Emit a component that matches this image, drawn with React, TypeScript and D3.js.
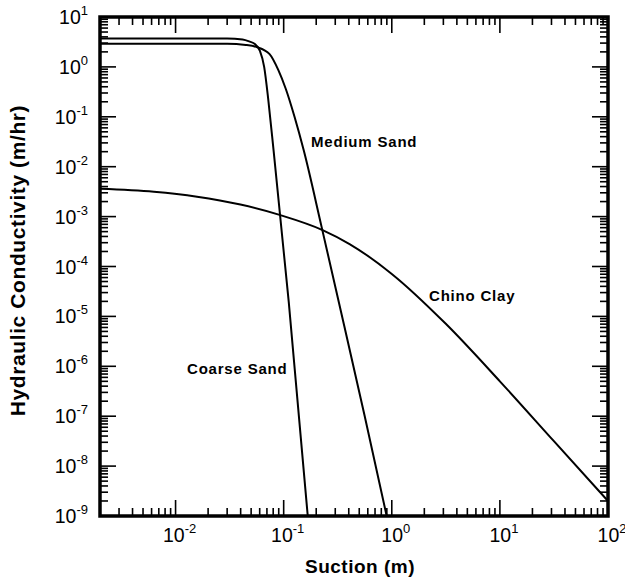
import { useEffect, useRef } from "react"
import * as d3 from "d3"

// suction (m) vs hydraulic conductivity (m/hr)
const coarseSuction = [0.002, 0.03, 0.0417, 0.0479, 0.0537, 0.0603, 0.066, 0.0724, 0.0807, 0.1114, 0.167]
const coarseK = [3.7, 3.7, 3.55, 3.25, 2.9, 2.1, 1.0, 0.2, 0.021, 1.95e-5, 1e-9]

const mediumSuction = [0.002, 0.03, 0.0447, 0.0562, 0.0741, 0.0891, 0.1047, 0.126, 0.1535, 0.224, 0.325, 0.562, 0.897]
const mediumK = [2.9, 2.9, 2.75, 2.5, 1.8, 0.87, 0.36, 0.1, 0.021, 6.3e-4, 1.86e-5, 1e-7, 1e-9]

const claySuction = [0.002, 0.0063, 0.0158, 0.0398, 0.0933, 0.229, 0.407, 1.0, 3.16, 10, 31.6, 100]
const clayK = [3.63e-3, 3.16e-3, 2.51e-3, 1.74e-3, 1.07e-3, 5.37e-4, 2.82e-4, 7.1e-5, 7.1e-6, 5.0e-7, 3.16e-8, 2.0e-9]

const xTickExps = [-2, -1, 0, 1, 2]
const yTickExps = [1, 0, -1, -2, -3, -4, -5, -6, -7, -8, -9]

const W = 625, H = 580
const margin = { top: 17, right: 17, bottom: 64, left: 100 }
const font = "'Liberation Sans', Arial, Helvetica, sans-serif"

const App = () => {
    const ref = useRef<SVGSVGElement>(null)

    useEffect(() => {
        const svg = d3.select(ref.current)
        svg.selectAll("*").remove()

        const x = d3.scaleLog().domain([0.002, 100]).range([margin.left, W - margin.right])
        const y = d3.scaleLog().domain([1e-9, 10]).range([H - margin.bottom, margin.top])
        const [x0, x1] = x.range()
        const [y0, y1] = y.range()

        const ticksFor = (lo: number, hi: number, scale: any) => {
            const out: { v: number, major: boolean }[] = []
            for (let e = Math.floor(Math.log10(lo)); e <= Math.ceil(Math.log10(hi)); e++) {
                for (let m = 1; m <= 9; m++) {
                    const v = m * Math.pow(10, e)
                    if (v >= lo * 0.999 && v <= hi * 1.001) out.push({ v, major: m === 1 })
                }
            }
            return out.map(t => ({ ...t, p: scale(t.v) }))
        }
        const xt = ticksFor(0.002, 100, x)
        const yt = ticksFor(1e-9, 10, y)
        const major = 16, minor = 8

        const g = svg.append("g").attr("stroke", "#000").attr("stroke-width", 1.6)
        xt.forEach(t => {
            const l = t.major ? major : minor
            g.append("line").attr("x1", t.p).attr("x2", t.p).attr("y1", y0).attr("y2", y0 - l)
            g.append("line").attr("x1", t.p).attr("x2", t.p).attr("y1", y1).attr("y2", y1 + l)
        })
        yt.forEach(t => {
            const l = t.major ? major : minor
            g.append("line").attr("y1", t.p).attr("y2", t.p).attr("x1", x0).attr("x2", x0 + l)
            g.append("line").attr("y1", t.p).attr("y2", t.p).attr("x1", x1).attr("x2", x1 - l)
        })

        // frame
        svg.append("rect")
            .attr("x", x0).attr("y", y1)
            .attr("width", x1 - x0).attr("height", y0 - y1)
            .attr("fill", "none").attr("stroke", "#000").attr("stroke-width", 3.5)

        // tick labels
        xTickExps.forEach(e => {
            const t = svg.append("text")
                .attr("x", x(Math.pow(10, e)) + 4).attr("y", y0 + 26)
                .attr("text-anchor", "middle")
                .attr("font-family", font).attr("font-size", 19.5)
            t.append("tspan").text("10")
            t.append("tspan").attr("font-size", 13).attr("dy", -9).text(String(e))
        })
        yTickExps.forEach(e => {
            const t = svg.append("text")
                .attr("x", x0 - 12).attr("y", y(Math.pow(10, e)) + 7)
                .attr("text-anchor", "end")
                .attr("font-family", font).attr("font-size", 19.5)
            t.append("tspan").text("10")
            t.append("tspan").attr("font-size", 13).attr("dy", -9).text(String(e))
        })

        const line = d3.line<[number, number]>()
            .curve(d3.curveMonotoneX)
            .x(d => x(d[0]))
            .y(d => y(d[1]))

        const series = [
            { s: coarseSuction, k: coarseK },
            { s: mediumSuction, k: mediumK },
            { s: claySuction, k: clayK },
        ]
        series.forEach(({ s, k }) => {
            svg.append("path")
                .datum(s.map((v, i) => [v, k[i]] as [number, number]))
                .attr("fill", "none")
                .attr("stroke", "#000")
                .attr("stroke-width", 2)
                .attr("d", line)
        })

        const labels = [
            { t: "Medium Sand", x: 311, y: 147 },
            { t: "Coarse Sand", x: 187, y: 374 },
            { t: "Chino Clay", x: 429, y: 301 },
        ]
        labels.forEach(l => {
            svg.append("text")
                .attr("x", l.x).attr("y", l.y)
                .attr("font-family", font).attr("font-size", 15)
                .attr("font-weight", "bold").attr("letter-spacing", 0.8)
                .text(l.t)
        })

        svg.append("text")
            .attr("x", 360).attr("y", H - 7)
            .attr("text-anchor", "middle")
            .attr("font-family", font).attr("font-size", 19).attr("font-weight", "bold")
            .attr("letter-spacing", 0.5)
            .text("Suction (m)")

        svg.append("text")
            .attr("transform", `translate(25,${(y0 + y1) / 2 - 6}) rotate(-90)`)
            .attr("text-anchor", "middle")
            .attr("font-family", font).attr("font-size", 21).attr("font-weight", "bold")
            .attr("letter-spacing", 0.6)
            .text("Hydraulic Conductivity (m/hr)")
    }, [])

    return <svg ref={ref} width={W} height={H} style={{ position: "absolute", left: 0, top: 0, background: "#fff" }} />
}

export default App
